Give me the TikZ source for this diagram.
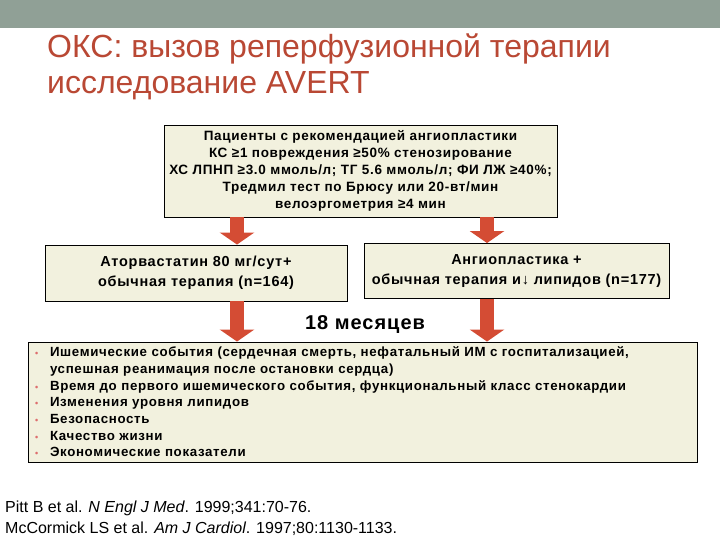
\documentclass[tikz,border=0pt]{standalone}
\usepackage{fontspec}
\setmainfont{Liberation Sans}
\newfontfamily\boxfont{Liberation Sans}[LetterSpace=5]
\usetikzlibrary{arrows.meta}
\definecolor{band}{RGB}{144,160,150}
\definecolor{titlec}{RGB}{185,72,52}
\definecolor{boxfill}{RGB}{242,241,222}
\definecolor{arrowc}{RGB}{212,76,52}
\definecolor{bulc}{RGB}{222,110,110}
\newcommand\bitem{\makebox[15pt][l]{\textcolor{bulc}{\small\textbullet}}}
\tikzset{
  box/.style={draw=black, line width=0.9pt, fill=boxfill, inner sep=3pt, align=center},
  bigarrow/.style={arrowc, line width=14pt, -{Triangle[width=34pt,length=12pt]}},
  titletext/.style={anchor=base west, text=titlec, font=\fontsize{32}{36}\selectfont, inner sep=0pt},
  cite/.style={anchor=base west, inner sep=0pt, font=\fontsize{16}{18}\selectfont}
}
\begin{document}
\begin{tikzpicture}[x=1pt,y=-1pt]
\useasboundingbox (0,0) rectangle (720,540);
\fill[band] (0,0) rectangle (720,28);
\node[titletext] (t1) at (47,58) {ОКС: вызов реперфузионной терапии};
\node[titletext] (t2) at (47,94) {исследование AVERT};

\node[box, minimum width=393, minimum height=92, font=\boxfont\bfseries\fontsize{13.5}{17}\selectfont] (top) at (360.5,171)
 {Пациенты с рекомендацией ангиопластики\\
  КС ≥1 повреждения ≥50\% стенозирование\\
  ХС ЛПНП ≥3.0 ммоль/л; ТГ 5.6 ммоль/л; ФИ ЛЖ ≥40\%;\\
  Тредмил тест по Брюсу или 20-вт/мин\\
  велоэргометрия ≥4 мин};

\node[box, minimum width=302, minimum height=56, font=\boxfont\bfseries\fontsize{14.5}{20}\selectfont] (left) at (196,273)
 {Аторвастатин 80 мг/сут+\\обычная терапия (n=164)};
\node[box, minimum width=305, minimum height=55, font=\boxfont\bfseries\fontsize{14.5}{20}\selectfont] (right) at (516.5,271)
 {Ангиопластика +\\обычная терапия и↓ липидов (n=177)};

\node[font=\boxfont\bfseries\fontsize{20}{22}\selectfont, inner sep=0pt] (months) at (365,325) {18 месяцев};

\node[box, minimum width=669, minimum height=120, align=left, text width=655, font=\boxfont\bfseries\fontsize{13.3}{16.7}\selectfont] (bottom) at (362.5,402)
 {\bitem Ишемические события (сердечная смерть, нефатальный ИМ с госпитализацией,\\
  \hspace*{15pt}успешная реанимация после остановки сердца)\\
  \bitem Время до первого ишемического события, функциональный класс стенокардии\\
  \bitem Изменения уровня липидов\\
  \bitem Безопасность\\
  \bitem Качество жизни\\
  \bitem Экономические показатели};

\coordinate (xl) at (237,0);
\coordinate (xr) at (487,0);
\draw[bigarrow] (top.south -| xl) -- (left.north -| xl);
\draw[bigarrow] (top.south -| xr) -- (right.north -| xr);
\draw[bigarrow] (left.south -| xl) -- (bottom.north -| xl);
\draw[bigarrow] (right.south -| xr) -- (bottom.north -| xr);

\node[cite] (c1) at (5,512) {Pitt B et al. \textit{N Engl J Med}. 1999;341:70-76.};
\node[cite] (c2) at (5,533) {McCormick LS et al. \textit{Am J Cardiol}. 1997;80:1130-1133.};
\end{tikzpicture}
\end{document}
